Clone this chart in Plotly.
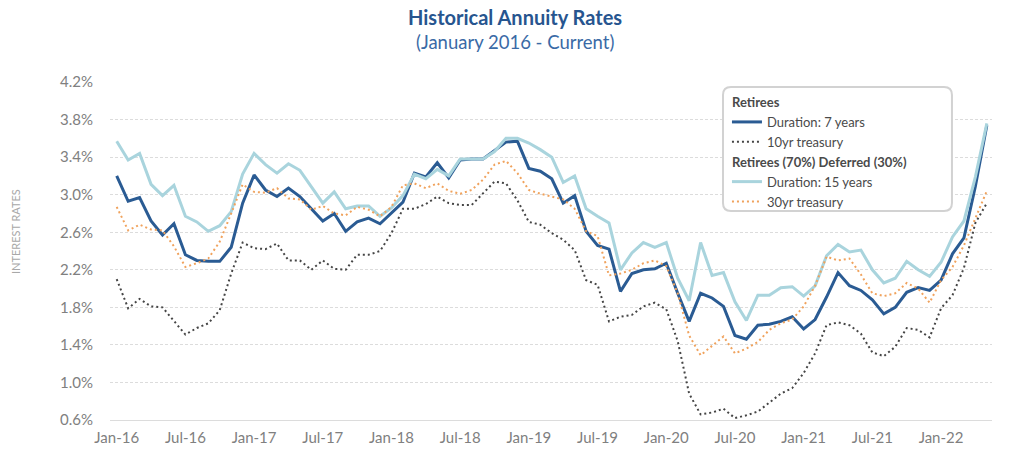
import plotly.graph_objects as go

# ---- data ----
month_names = ["Jan", "Feb", "Mar", "Apr", "May", "Jun", "Jul", "Aug", "Sep", "Oct", "Nov", "Dec"]
years = ["16", "17", "18", "19", "20", "21", "22"]
months = [f"{m}-{y}" for y in years for m in month_names][:77]  # Jan-16 .. May-22

tick_labels = ["Jan-16", "Jul-16", "Jan-17", "Jul-17", "Jan-18", "Jul-18", "Jan-19",
               "Jul-19", "Jan-20", "Jul-20", "Jan-21", "Jul-21", "Jan-22"]

y_ticks = [0.6, 1.0, 1.4, 1.8, 2.2, 2.6, 3.0, 3.4, 3.8, 4.2]
y_tick_text = ["0.6%", "1.0%", "1.4%", "1.8%", "2.2%", "2.6%", "3.0%", "3.4%", "3.8%", "4.2%"]

dur7 = [3.20, 2.93, 2.97, 2.72, 2.57, 2.69, 2.36, 2.30, 2.29, 2.29, 2.44, 2.91,
        3.21, 3.05, 2.98, 3.07, 2.98, 2.85, 2.72, 2.80, 2.61, 2.71, 2.75, 2.69,
        2.80, 2.92, 3.23, 3.19, 3.34, 3.18, 3.37, 3.38, 3.38, 3.47, 3.56, 3.57,
        3.28, 3.25, 3.17, 2.91, 2.99, 2.61, 2.46, 2.42, 1.97, 2.16, 2.20, 2.21,
        2.27, 1.95, 1.65, 1.95, 1.90, 1.81, 1.50, 1.46, 1.61, 1.62, 1.65, 1.70,
        1.57, 1.67, 1.91, 2.17, 2.03, 1.98, 1.88, 1.73, 1.80, 1.96, 2.01, 1.98,
        2.09, 2.37, 2.54, 3.09, 3.74]

dur15 = [3.57, 3.37, 3.44, 3.11, 2.99, 3.10, 2.77, 2.71, 2.61, 2.67, 2.82, 3.22,
         3.44, 3.32, 3.23, 3.33, 3.26, 3.09, 2.91, 3.03, 2.85, 2.88, 2.88, 2.77,
         2.86, 2.99, 3.22, 3.17, 3.27, 3.20, 3.38, 3.38, 3.38, 3.46, 3.60, 3.60,
         3.55, 3.48, 3.40, 3.13, 3.20, 2.85, 2.77, 2.70, 2.20, 2.38, 2.49, 2.44,
         2.49, 2.11, 1.87, 2.49, 2.14, 2.17, 1.86, 1.66, 1.93, 1.93, 2.01, 2.02,
         1.92, 2.03, 2.35, 2.47, 2.39, 2.41, 2.20, 2.06, 2.11, 2.29, 2.20, 2.13,
         2.28, 2.55, 2.72, 3.19, 3.76]

t10 = [2.10, 1.79, 1.89, 1.81, 1.80, 1.65, 1.51, 1.58, 1.63, 1.77, 2.16, 2.49,
       2.43, 2.42, 2.48, 2.30, 2.30, 2.20, 2.30, 2.21, 2.20, 2.36, 2.36, 2.40,
       2.59, 2.85, 2.85, 2.90, 2.98, 2.91, 2.89, 2.89, 3.01, 3.14, 3.12, 2.94,
       2.71, 2.68, 2.59, 2.52, 2.41, 2.09, 2.04, 1.65, 1.70, 1.72, 1.81, 1.85,
       1.78, 1.44, 0.88, 0.66, 0.68, 0.72, 0.62, 0.65, 0.69, 0.79, 0.88, 0.94,
       1.10, 1.31, 1.61, 1.64, 1.61, 1.52, 1.32, 1.28, 1.38, 1.58, 1.56, 1.48,
       1.79, 1.93, 2.22, 2.70, 2.91]

t30 = [2.87, 2.62, 2.68, 2.63, 2.62, 2.45, 2.23, 2.27, 2.32, 2.50, 2.80, 3.11,
       3.03, 3.02, 3.07, 2.96, 2.95, 2.84, 2.88, 2.80, 2.78, 2.87, 2.84, 2.77,
       2.87, 3.10, 3.12, 3.07, 3.12, 3.04, 3.01, 3.05, 3.16, 3.32, 3.36, 3.23,
       3.05, 3.01, 2.98, 2.95, 2.85, 2.61, 2.56, 2.14, 2.16, 2.20, 2.27, 2.30,
       2.24, 1.95, 1.50, 1.29, 1.39, 1.49, 1.31, 1.36, 1.43, 1.56, 1.63, 1.67,
       1.81, 2.03, 2.34, 2.30, 2.32, 2.15, 1.95, 1.92, 1.95, 2.06, 2.00, 1.85,
       2.09, 2.23, 2.46, 2.75, 3.04]

# ---- styles ----
FONT = "Lato"
DARK_BLUE = "#2a5b93"
LIGHT_BLUE = "#a9d4dd"
ORANGE = "#f0a25c"
DARK_GRAY = "#454545"
GRID = "#dcdcdc"
TICK = "#808080"

fig = go.Figure()

fig.add_trace(go.Scatter(
    x=months, y=dur7, mode="lines", name="Duration: 7 years",
    line=dict(color=DARK_BLUE, width=3),
    legendgroup="g1", legendgrouptitle=dict(text="<b>Retirees</b>"), legendrank=1))
fig.add_trace(go.Scatter(
    x=months, y=dur15, mode="lines", name="Duration: 15 years",
    line=dict(color=LIGHT_BLUE, width=3),
    legendgroup="g2", legendgrouptitle=dict(text="<b>Retirees (70%) Deferred (30%)</b>"), legendrank=3))
fig.add_trace(go.Scatter(
    x=months, y=t30, mode="lines", name="30yr treasury",
    line=dict(color=ORANGE, width=2, dash="2px,3px"),
    legendgroup="g2", legendrank=4))
fig.add_trace(go.Scatter(
    x=months, y=t10, mode="lines", name="10yr treasury",
    line=dict(color=DARK_GRAY, width=2, dash="2px,3px"),
    legendgroup="g1", legendrank=2))

# rounded legend frame (paper coordinates)
x0, x1 = 0.695, 0.9546
y0, y1 = 0.618, 0.985
rx, ry = 0.009, 0.0237
path = (f"M {x0+rx},{y1} L {x1-rx},{y1} Q {x1},{y1} {x1},{y1-ry} "
        f"L {x1},{y0+ry} Q {x1},{y0} {x1-rx},{y0} L {x0+rx},{y0} "
        f"Q {x0},{y0} {x0},{y0+ry} L {x0},{y1-ry} Q {x0},{y1} {x0+rx},{y1} Z")
fig.add_shape(type="path", path=path, xref="paper", yref="paper",
              line=dict(color="#d2d2d2", width=2), fillcolor="white", layer="above")

fig.update_layout(
    width=1024, height=461,
    margin=dict(l=110, r=32, t=82, b=41),
    paper_bgcolor="white", plot_bgcolor="white",
    font=dict(family=FONT, color=TICK),
    showlegend=True,
    hovermode=False,
    legend=dict(
        x=0.6995, y=0.985, xanchor="left", yanchor="top",
        bgcolor="rgba(0,0,0,0)", borderwidth=0,
        font=dict(family=FONT, size=13, color="#4a4a4a"),
        grouptitlefont=dict(family=FONT, size=13, color="#4a4a4a"),
        traceorder="grouped", tracegroupgap=0, itemwidth=30,
    ),
    annotations=[
        dict(text="<b>Historical Annuity Rates</b>", xref="paper", yref="paper",
             x=0.4592, y=1.191, xanchor="center", yanchor="middle", showarrow=False,
             font=dict(family=FONT, size=20, color="#27558f")),
        dict(text="(January 2016 - Current)", xref="paper", yref="paper",
             x=0.4592, y=1.117, xanchor="center", yanchor="middle", showarrow=False,
             font=dict(family=FONT, size=18.5, color="#3a6aa6")),
        dict(text="INTEREST RATES", xref="paper", yref="paper",
             x=-0.1077, y=0.556, xanchor="center", yanchor="middle", showarrow=False,
             textangle=-90, font=dict(family=FONT, size=11, color="#a8a8a8")),
    ],
)

fig.update_xaxes(
    type="category", range=[-0.585, 76.45],
    tickmode="array", tickvals=tick_labels, ticktext=tick_labels,
    showgrid=False, showline=True, linecolor=GRID, linewidth=1,
    ticks="", tickfont=dict(family=FONT, size=15, color=TICK),
    ticklabelstandoff=4, zeroline=False,
)
fig.update_yaxes(
    range=[0.6, 4.2005],
    tickmode="array", tickvals=y_ticks, ticktext=y_tick_text,
    showgrid=True, gridcolor=GRID, gridwidth=1, griddash="3px,2px",
    zeroline=False, showline=False, ticks="",
    ticklabelstandoff=16,
    tickfont=dict(family=FONT, size=15, color=TICK),
)

# remove the browser's default page margin so the 1024x461 figure fills the window exactly
fig.write_html("out.html", config={"displayModeBar": False},
               post_script="document.body.style.margin='0px';")
